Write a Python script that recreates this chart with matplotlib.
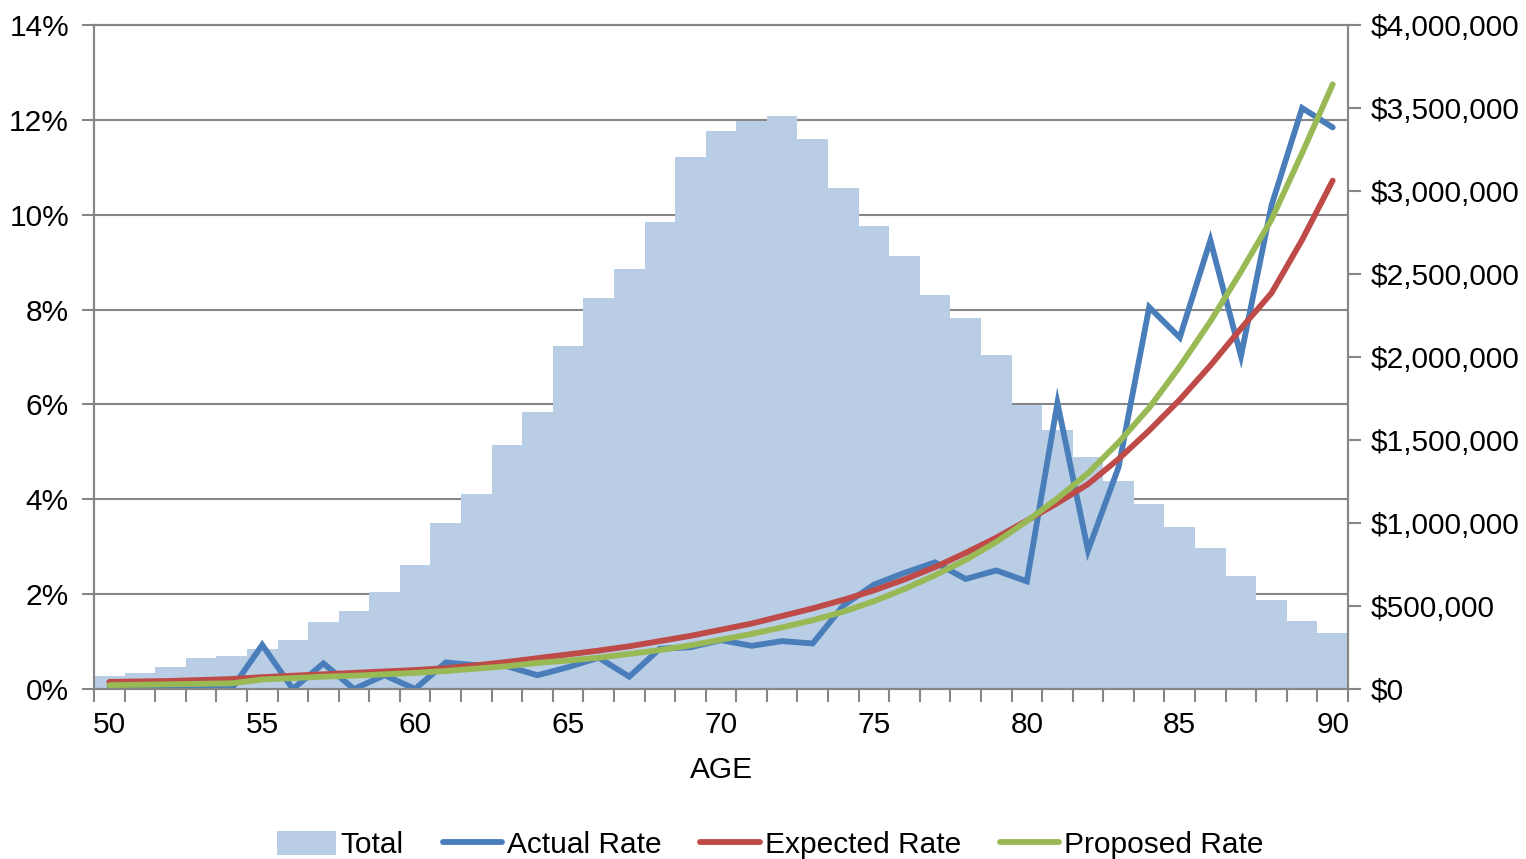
import numpy as np
import matplotlib
matplotlib.use("Agg")
import matplotlib.pyplot as plt
from matplotlib.ticker import FuncFormatter, MultipleLocator
from matplotlib.patches import Patch
from matplotlib.lines import Line2D

plt.rcParams['font.family'] = ['Liberation Sans', 'DejaVu Sans']

ages = list(range(50, 91))

# total amount by age (right axis, $)
total = [78e3, 96e3, 132e3, 187e3, 196e3, 243e3, 293e3, 401e3, 470e3, 586e3,
         747e3, 1000e3, 1175e3, 1470e3, 1669e3, 2069e3, 2357e3, 2530e3, 2814e3, 3202e3,
         3359e3, 3422e3, 3449e3, 3315e3, 3020e3, 2791e3, 2611e3, 2373e3, 2233e3, 2012e3,
         1711e3, 1560e3, 1398e3, 1253e3, 1114e3, 976e3, 849e3, 681e3, 536e3, 410e3,
         337e3]

# rates (left axis, %)
actual = [0.0, 0.0, 0.0, 0.0, 0.0, 0.93, 0.0, 0.54, 0.0, 0.29,
          0.0, 0.56, 0.50, 0.48, 0.29, 0.46, 0.66, 0.26, 0.85, 0.88,
          1.03, 0.91, 1.01, 0.96, 1.76, 2.20, 2.45, 2.67, 2.32, 2.50,
          2.27, 6.03, 2.92, 4.68, 8.05, 7.41, 9.46, 7.02, 10.2, 12.25,
          11.84]
expected = [0.15, 0.16, 0.17, 0.19, 0.21, 0.25, 0.28, 0.31, 0.34, 0.37,
            0.40, 0.44, 0.50, 0.57, 0.65, 0.73, 0.81, 0.90, 1.01, 1.12,
            1.25, 1.38, 1.54, 1.70, 1.88, 2.08, 2.31, 2.57, 2.87, 3.19,
            3.55, 3.92, 4.32, 4.85, 5.45, 6.10, 6.82, 7.60, 8.35, 9.47,
            10.72]
proposed = [0.08, 0.09, 0.10, 0.11, 0.12, 0.20, 0.23, 0.26, 0.28, 0.31,
            0.34, 0.38, 0.43, 0.48, 0.55, 0.60, 0.66, 0.74, 0.82, 0.92,
            1.04, 1.16, 1.30, 1.45, 1.63, 1.85, 2.11, 2.40, 2.72, 3.10,
            3.54, 4.02, 4.55, 5.20, 5.93, 6.80, 7.75, 8.80, 9.90, 11.30,
            12.75]

bar_color = '#B9CDE5'
c_actual = '#4A7EBB'
c_expected = '#BE4B48'
c_proposed = '#98B954'
gray = '#868686'
fs = 21.5
lw = 4.2

fig = plt.figure(figsize=(15.26, 8.59), dpi=100)
ax = fig.add_axes([94 / 1526, 170 / 859, 1254 / 1526, 664 / 859])
ax2 = ax.twinx()

# bars on the right axis, gridlines (aligned with left % ticks) as minor grid
ax2.bar(ages, total, width=1.0, color=bar_color, linewidth=0)
ax2.set_ylim(0, 4e6)
ax2.yaxis.set_major_locator(MultipleLocator(500000))
ax2.yaxis.set_major_formatter(FuncFormatter(lambda v, p: '${:,.0f}'.format(v)))
ax2.set_yticks(np.linspace(0, 4e6, 8), minor=True)
ax2.set_axisbelow(True)
ax2.grid(which='minor', axis='y', color=gray, linewidth=1.5)
ax2.tick_params(axis='y', which='minor', length=0)
ax2.tick_params(axis='y', which='major', length=9, width=1.5, color=gray,
                labelsize=fs, pad=7)

# lines on top
ax.set_zorder(ax2.get_zorder() + 1)
ax.patch.set_visible(False)
ax.plot(ages, actual, color=c_actual, lw=lw, solid_capstyle='round', solid_joinstyle='miter')
ax.plot(ages, expected, color=c_expected, lw=lw, solid_capstyle='round')
ax.plot(ages, proposed, color=c_proposed, lw=lw, solid_capstyle='round')
ax.set_ylim(0, 14)
ax.set_yticks(range(0, 15, 2))
ax.yaxis.set_major_formatter(FuncFormatter(lambda v, p: '{:.0f}%'.format(v)))
ax.tick_params(axis='y', length=9, width=1.5, color=gray, labelsize=fs, pad=9)

ax.set_xlim(49.5, 90.5)
ax.set_xticks(range(50, 91, 5))
ax.set_xticks(np.arange(49.5, 91, 1), minor=True)
ax.tick_params(axis='x', which='major', length=0, labelsize=fs, pad=16)
ax.tick_params(axis='x', which='minor', length=9, width=1.5, color=gray)
ax.set_xlabel('AGE', fontsize=fs, labelpad=12)

for a in (ax, ax2):
    for s in a.spines.values():
        s.set_color(gray)
        s.set_linewidth(1.5)

handles = [Patch(facecolor=bar_color, edgecolor='none'),
           Line2D([], [], color=c_actual, lw=lw, solid_capstyle='round'),
           Line2D([], [], color=c_expected, lw=lw, solid_capstyle='round'),
           Line2D([], [], color=c_proposed, lw=lw, solid_capstyle='round')]
fig.legend(handles, ['Total', 'Actual Rate', 'Expected Rate', 'Proposed Rate'],
           loc='center', bbox_to_anchor=(770 / 1526, 1 - 845 / 859), ncol=4,
           frameon=False, fontsize=fs, handlelength=2.0, handletextpad=0.15,
           columnspacing=1.3, handleheight=0.9)

fig.savefig('out.png', dpi=100, facecolor='white')
